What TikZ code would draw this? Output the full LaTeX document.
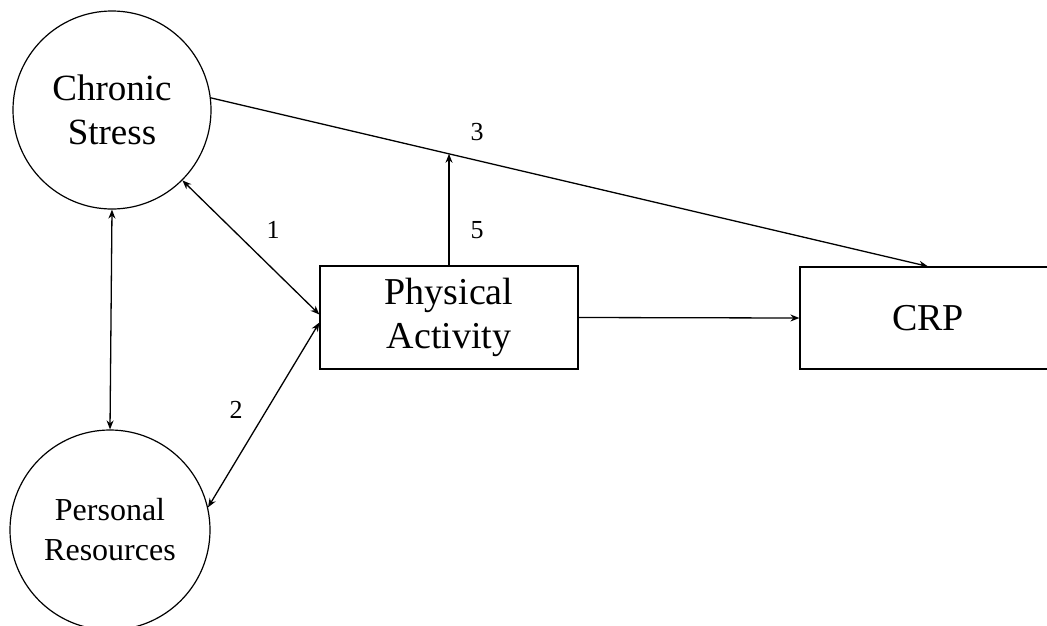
\documentclass[tikz,border=0pt]{standalone}
\usepackage{fontspec}
\setmainfont{Liberation Serif}
\usetikzlibrary{arrows.meta,calc}
\begin{document}
\begin{tikzpicture}[x=1pt,y=-1pt,
  latent/.style={draw,circle,line width=1.2pt,minimum size=#1,inner sep=0pt,align=center,font=\fontsize{37}{44}\selectfont},
  observed/.style={draw,rectangle,line width=1.2pt,align=center,inner sep=0pt,font=\fontsize{38}{44}\selectfont},
  conn/.style={line width=1.3pt,-{Stealth[length=9pt,width=7pt]}},
  bconn/.style={line width=1.3pt,{Stealth[length=9pt,width=7pt]}-{Stealth[length=9pt,width=7pt]}},
  num/.style={font=\fontsize{26}{30}\selectfont,inner sep=0pt}]
\useasboundingbox (0,0) rectangle (1047,625);
\clip (0,0) rectangle (1047,625);
\node[latent=198pt] (cs) at (112,110) {Chronic\\Stress};
\node[latent=200pt,font=\fontsize{32}{40}\selectfont] (pr) at (110,530) {Personal\\Resources};
\node[observed,minimum width=258pt,minimum height=103pt] (pa) at (449,317.5) {Physical\\Activity};
\node[observed,minimum width=256pt,minimum height=102pt] (crp) at (928,318) {CRP};
\draw[bconn] (cs.south) -- (pr.north);
\draw[bconn] (cs.-45) -- ($(pa.west)+(0,-3)$);
\draw[bconn] (pr.13) -- ($(pa.west)+(0,5)$);
\draw[conn] (pa.east) -- (crp.west);
\draw[conn] (cs.7) -- (crp.north);
\path (cs.7) -- (crp.north) coordinate[pos=0.332] (m);
\draw[conn] (pa.north) -- (pa.north |- m);
\node[num] (l1) at (273,230) {1};
\node[num] (l2) at (236,410) {2};
\node[num] (l3) at (477,132) {3};
\node[num] (l5) at (477,230) {5};
\end{tikzpicture}
\end{document}
